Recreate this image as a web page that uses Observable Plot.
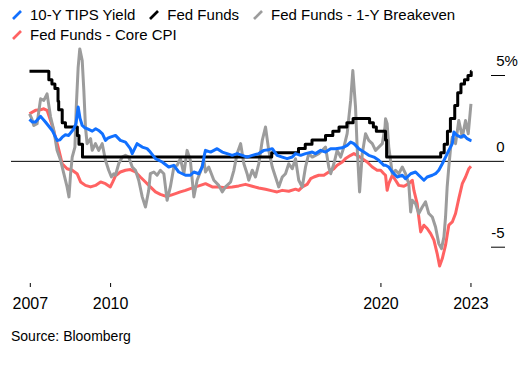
<!DOCTYPE html>
<html><head><meta charset="utf-8">
<script src="https://cdn.jsdelivr.net/npm/d3@7"></script>
<script src="https://cdn.jsdelivr.net/npm/@observablehq/plot@0.6"></script>
<style>
body{margin:0;background:#fff;font-family:"Liberation Sans",Arial,sans-serif;color:#000;width:530px;height:369px;overflow:hidden}
#legend{padding:5px 0 0 12px;height:40px;font-size:15px;line-height:20px}
.row{display:flex;height:20px;align-items:center}
.item{display:inline-flex;align-items:center;margin-right:14px;white-space:nowrap}
.sw{width:10px;height:10px;margin-right:8px;flex:none}
#chart svg{display:block}
#caption{font-size:14px;line-height:16px;margin:11px 0 0 11px}
</style></head><body>
<div id="legend"></div>
<div id="chart"></div>
<div id="caption">Source: Bloomberg</div>
<script>
// ---- data: [decimal year, percent] ----
const tipsYield = [[2007.00,2.44],[2007.10,2.29],[2007.22,2.29],[2007.41,2.62],[2007.59,2.29],[2007.84,1.80],[2008.02,1.22],[2008.12,1.25],[2008.21,1.41],[2008.33,1.55],[2008.45,1.51],[2008.64,1.90],[2008.72,2.2],[2008.80,3.16],[2008.87,2.5],[2008.95,2.09],[2009.05,1.95],[2009.13,1.90],[2009.32,1.76],[2009.45,1.9],[2009.56,1.80],[2009.70,1.6],[2009.81,1.22],[2009.90,1.35],[2009.99,1.41],[2010.18,1.51],[2010.36,1.22],[2010.55,1.12],[2010.73,0.74],[2010.80,0.45],[2010.98,1.03],[2011.17,0.83],[2011.35,0.74],[2011.47,0.54],[2011.66,0.16],[2011.91,-0.04],[2012.15,-0.33],[2012.34,-0.23],[2012.52,-0.62],[2012.77,-0.81],[2012.95,-0.81],[2013.08,-0.62],[2013.26,-0.72],[2013.39,-0.33],[2013.48,0.45],[2013.51,0.64],[2013.70,0.54],[2013.94,0.74],[2014.13,0.54],[2014.31,0.45],[2014.50,0.35],[2014.68,0.45],[2014.87,0.35],[2015.05,0.25],[2015.24,0.35],[2015.48,0.45],[2015.67,0.64],[2015.85,0.68],[2015.98,0.74],[2016.16,0.35],[2016.35,0.25],[2016.53,0.16],[2016.72,0.25],[2016.84,0.45],[2017.03,0.35],[2017.21,0.45],[2017.46,0.54],[2017.58,0.45],[2017.77,0.64],[2017.95,0.54],[2018.14,0.74],[2018.32,0.74],[2018.57,0.79],[2018.75,0.93],[2018.88,1.12],[2019.00,1.03],[2019.18,0.74],[2019.37,0.54],[2019.55,0.35],[2019.74,0.25],[2019.92,0.06],[2020.11,-0.23],[2020.17,-0.23],[2020.29,-0.33],[2020.42,-0.62],[2020.60,-0.91],[2020.79,-0.81],[2020.91,-1.01],[2021.10,-0.72],[2021.28,-0.62],[2021.40,-0.81],[2021.59,-1.10],[2021.71,-0.91],[2021.90,-0.81],[2022.02,-0.72],[2022.14,-0.52],[2022.27,-0.14],[2022.39,0.25],[2022.51,0.64],[2022.64,1.03],[2022.70,1.71],[2022.82,1.51],[2022.95,1.41],[2023.07,1.51],[2023.19,1.32],[2023.31,1.22],[2023.35,1.2]];

const fedFunds = [[2007.0,5.25],[2007.715,4.75],[2007.83,4.5],[2007.94,4.25],[2008.055,3.5],[2008.08,3.0],[2008.21,2.25],[2008.33,2.0],[2008.77,1.5],[2008.83,1.0],[2008.96,0.25],[2015.96,0.5],[2016.95,0.75],[2017.2,1.0],[2017.45,1.25],[2017.95,1.5],[2018.22,1.75],[2018.45,2.0],[2018.74,2.25],[2018.97,2.5],[2019.58,2.25],[2019.72,2.0],[2019.83,1.75],[2020.17,1.25],[2020.21,0.25],[2022.21,0.5],[2022.34,1.0],[2022.46,1.75],[2022.57,2.5],[2022.73,3.25],[2022.84,4.0],[2022.96,4.5],[2023.09,4.75],[2023.22,5.0],[2023.34,5.25],[2023.35,5.25]];

const ffMinusBreakeven = [[2007.00,2.77],[2007.08,2.5],[2007.16,2.09],[2007.28,2.19],[2007.41,3.64],[2007.53,3.55],[2007.65,3.93],[2007.78,2.58],[2007.90,1.80],[2008.02,0.64],[2008.15,0.06],[2008.27,-0.72],[2008.39,-1.49],[2008.46,-2.07],[2008.52,-0.72],[2008.58,0.25],[2008.68,0.83],[2008.73,3.16],[2008.80,5.48],[2008.86,6.55],[2008.95,5.87],[2009.01,4.13],[2009.07,2.00],[2009.13,1.03],[2009.26,1.32],[2009.32,0.64],[2009.44,1.03],[2009.56,0.64],[2009.69,1.03],[2009.81,0.06],[2009.93,-0.52],[2010.03,-0.91],[2010.12,-0.72],[2010.18,-0.81],[2010.30,-0.14],[2010.43,0.25],[2010.55,0.35],[2010.67,0.25],[2010.80,-0.33],[2010.92,-0.52],[2011.04,-1.10],[2011.17,-2.07],[2011.29,-2.66],[2011.41,-1.69],[2011.47,-0.72],[2011.60,-0.62],[2011.72,-0.81],[2011.84,-0.52],[2011.97,-0.72],[2012.09,-2.27],[2012.21,-1.49],[2012.34,-0.33],[2012.46,-0.23],[2012.58,0.16],[2012.71,-0.72],[2012.83,0.64],[2012.95,0.06],[2013.08,-2.07],[2013.20,-1.10],[2013.32,-0.62],[2013.45,0.06],[2013.51,-0.62],[2013.63,-0.33],[2013.82,-1.10],[2014.00,-1.40],[2014.13,-1.78],[2014.25,-1.49],[2014.44,-1.20],[2014.56,-0.52],[2014.68,0.45],[2014.81,1.03],[2014.93,-0.14],[2015.05,-0.72],[2015.11,-1.10],[2015.24,-0.52],[2015.36,-0.91],[2015.48,-0.14],[2015.61,1.22],[2015.73,2.00],[2015.85,0.64],[2015.98,-0.33],[2016.10,-0.91],[2016.22,-1.49],[2016.35,-0.91],[2016.47,-0.72],[2016.59,-0.14],[2016.72,-0.43],[2016.84,0.15],[2016.96,-1.10],[2017.09,-1.49],[2017.21,-0.33],[2017.33,0.45],[2017.46,0.25],[2017.58,0.35],[2017.70,0.45],[2017.83,0.64],[2017.95,0.83],[2018.07,-0.33],[2018.14,-0.72],[2018.26,-0.14],[2018.38,0.64],[2018.51,0.25],[2018.63,0.83],[2018.75,1.61],[2018.88,3.55],[2018.96,5.29],[2019.06,3.16],[2019.12,0.83],[2019.21,-1.78],[2019.31,0.45],[2019.43,1.61],[2019.55,1.22],[2019.68,1.03],[2019.80,0.64],[2019.92,0.83],[2020.05,1.03],[2020.15,2.00],[2020.17,2.48],[2020.23,2.19],[2020.29,0.83],[2020.42,-0.72],[2020.54,-0.52],[2020.66,-0.72],[2020.79,-0.33],[2020.91,-0.72],[2021.03,-1.30],[2021.10,-2.95],[2021.16,-2.27],[2021.28,-2.46],[2021.40,-3.04],[2021.53,-2.66],[2021.65,-2.36],[2021.77,-3.04],[2021.90,-3.24],[2022.02,-3.82],[2022.14,-4.79],[2022.24,-5.08],[2022.33,-4.40],[2022.39,-3.24],[2022.45,-1.49],[2022.51,-0.33],[2022.58,0.83],[2022.64,1.41],[2022.76,1.03],[2022.88,2.38],[2023.01,1.41],[2023.13,2.38],[2023.23,1.61],[2023.33,3.35]];

const ffMinusCoreCpi = [[2007.00,2.77],[2007.22,2.97],[2007.40,3.0],[2007.53,3.06],[2007.65,2.97],[2007.84,2.09],[2007.96,1.41],[2008.09,0.64],[2008.21,-0.14],[2008.39,-0.43],[2008.58,-0.52],[2008.76,-0.72],[2008.89,-1.20],[2009.07,-1.40],[2009.26,-1.49],[2009.44,-1.40],[2009.63,-1.20],[2009.81,-1.30],[2009.99,-1.49],[2010.08,-1.2],[2010.18,-0.85],[2010.36,-0.62],[2010.55,-0.52],[2010.73,-0.48],[2010.92,-0.62],[2011.10,-0.91],[2011.29,-1.20],[2011.47,-1.49],[2011.66,-1.78],[2011.84,-1.92],[2012.03,-2.03],[2012.21,-1.98],[2012.40,-1.88],[2012.58,-1.78],[2012.77,-1.69],[2012.95,-1.59],[2013.14,-1.49],[2013.32,-1.40],[2013.51,-1.30],[2013.76,-1.49],[2014.00,-1.49],[2014.25,-1.53],[2014.50,-1.49],[2014.74,-1.43],[2014.99,-1.34],[2015.24,-1.45],[2015.48,-1.55],[2015.73,-1.63],[2015.98,-1.72],[2016.16,-1.78],[2016.35,-1.69],[2016.59,-1.74],[2016.84,-1.62],[2016.96,-1.69],[2017.09,-1.49],[2017.27,-1.34],[2017.40,-1.01],[2017.52,-0.91],[2017.70,-0.81],[2017.89,-0.81],[2018.07,-0.62],[2018.26,-0.43],[2018.38,-0.23],[2018.57,-0.04],[2018.69,0.16],[2018.88,0.35],[2019.00,0.45],[2019.12,0.35],[2019.31,0.16],[2019.49,-0.04],[2019.68,-0.33],[2019.86,-0.52],[2019.99,-0.52],[2020.11,-0.72],[2020.17,-0.81],[2020.23,-1.69],[2020.29,-1.30],[2020.42,-0.81],[2020.54,-1.10],[2020.66,-1.40],[2020.85,-1.45],[2021.03,-1.30],[2021.16,-1.10],[2021.22,-1.69],[2021.34,-2.46],[2021.40,-3.24],[2021.47,-4.11],[2021.59,-3.72],[2021.71,-3.91],[2021.84,-4.21],[2021.96,-4.59],[2022.08,-5.37],[2022.17,-6.1],[2022.27,-5.66],[2022.39,-4.88],[2022.51,-3.72],[2022.64,-3.53],[2022.76,-3.04],[2022.88,-2.17],[2023.01,-1.30],[2023.13,-0.91],[2023.25,-0.43],[2023.33,-0.29]];

const seriesNames = ["10-Y TIPS Yield", "Fed Funds", "Fed Funds - 1-Y Breakeven", "Fed Funds - Core CPI"];
const seriesColors = ["#1170ff", "#000000", "#9c9c9c", "#ff6262"];
const xTickValues = [2007.03, 2010, 2020, 2023.33];
const xTickLabels = ["2007", "2010", "2020", "2023"];
const yTickValues = [5, 0, -5];
const yTickLabels = ["5%", "0", "-5"];

// ---- legend ----
const legend = document.getElementById("legend");
const rows = [[0, 1, 2], [3]];
rows.forEach(r => {
  const row = document.createElement("div");
  row.className = "row";
  r.forEach(i => {
    const it = document.createElement("span");
    it.className = "item";
    it.innerHTML = `<svg class="sw" viewBox="0 0 10 10"><line x1="1" y1="9" x2="9" y2="1" stroke="${seriesColors[i]}" stroke-width="2.6" stroke-linecap="butt"/></svg><span>${seriesNames[i]}</span>`;
    row.appendChild(it);
  });
  legend.appendChild(row);
});

const X = d => d[0], Y = d => d[1];
const lineOpts = (c) => ({x: X, y: Y, stroke: c, strokeWidth: 3, strokeLinejoin: "round", strokeLinecap: "butt"});

const chart = Plot.plot({
  width: 530,
  height: 272,
  marginLeft: 11,
  marginRight: 26,
  marginTop: 0,
  marginBottom: 34,
  x: {domain: [2007, 2023.35], range: [29, 471], axis: null},
  y: {domain: [-5, 5], range: [201.7, 30], axis: null},
  style: {fontFamily: "'Liberation Sans', Arial, sans-serif", background: "#fff", color: "#000", overflow: "visible"},
  marks: [
    Plot.ruleY([0], {stroke: "#000", strokeWidth: 1}),
    Plot.line(ffMinusCoreCpi, lineOpts(seriesColors[3])),
    Plot.line(ffMinusBreakeven, lineOpts(seriesColors[2])),
    Plot.line(fedFunds, {...lineOpts(seriesColors[1]), curve: "step-after"}),
    Plot.line(tipsYield, lineOpts(seriesColors[0])),
    Plot.axisX(xTickValues, {anchor: "bottom", tickSize: 4, tickPadding: 10, fontSize: 16, stroke: "#000",
      tickFormat: d => xTickLabels[xTickValues.indexOf(d)]}),
    Plot.axisY(yTickValues.filter(v => v !== 0), {anchor: "right", tickSize: 14, dx: -14, tickFormat: () => "", stroke: "#000"}),
    Plot.text(yTickValues, {y: d => d, frameAnchor: "right", textAnchor: "end", dy: -14, fontSize: 15, fill: "#000",
      text: d => yTickLabels[yTickValues.indexOf(d)].replace("%", "")}),
    Plot.text(yTickValues.filter(v => yTickLabels[yTickValues.indexOf(v)].includes("%")), {y: d => d, frameAnchor: "right", textAnchor: "start", dy: -14, fontSize: 15, fill: "#000",
      text: () => "%"})
  ]
});
document.getElementById("chart").appendChild(chart);
</script>
</body></html>
